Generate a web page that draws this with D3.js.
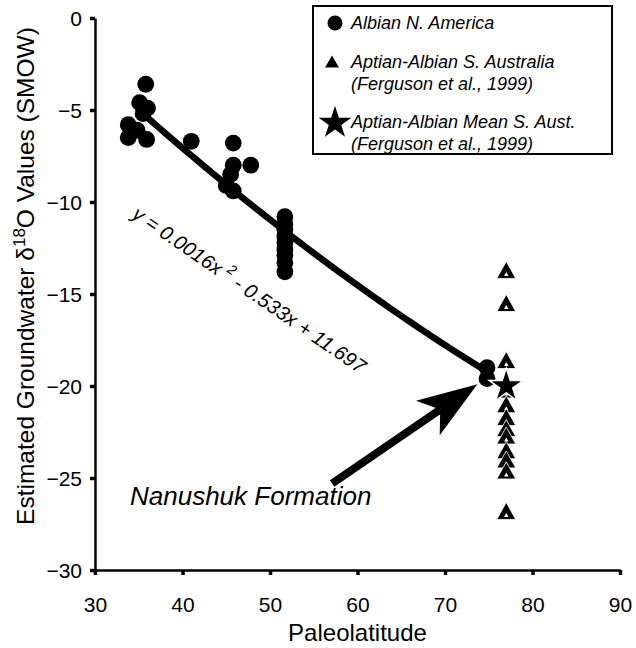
<!DOCTYPE html>
<html>
<head>
<meta charset="utf-8">
<script src="https://cdn.jsdelivr.net/npm/d3@7/dist/d3.min.js"></script>
<style>
  body { margin: 0; background: #fff; }
  svg { display: block; font-family: "Liberation Sans", Arial, Helvetica, sans-serif; }
</style>
</head>
<body>
<svg id="chart" width="636" height="648"></svg>
<script>
// Axis ticks
const xTicks = [30, 40, 50, 60, 70, 80, 90];
const yTicks = [0, -5, -10, -15, -20, -25, -30];

// Albian N. America: paleolatitude and estimated groundwater d18O (SMOW)
const naLat   = [35.8, 35.1, 36.0, 35.5, 33.8, 34.8, 33.8, 35.9,
                 41.0,
                 45.8, 45.8, 47.8, 45.5, 45.0, 45.8,
                 51.7, 51.7, 51.7, 51.7, 51.7, 51.7, 51.7, 51.7, 51.7,
                 74.8, 74.8];
const naD18O  = [-3.6, -4.6, -4.9, -5.2, -5.8, -6.1, -6.5, -6.6,
                 -6.7,
                 -6.8, -8.0, -8.0, -8.5, -9.1, -9.4,
                 -10.8, -11.2, -11.5, -11.9, -12.2, -12.6, -12.9, -13.3, -13.8,
                 -19.0, -19.6];

// Aptian-Albian S. Australia (Ferguson et al., 1999)
const ausLat  = [77, 77, 77, 77, 77, 77, 77, 77, 77, 77, 77, 77];
const ausD18O = [-13.8, -15.6, -18.7, -20.3, -21.1, -21.8, -22.4, -22.8, -23.6, -24.1, -24.7, -26.9];

// Aptian-Albian mean, S. Australia
const meanLat  = [77];
const meanD18O = [-20.0];

// Second-order polynomial fit through the N. America data: y = a x^2 + b x + c
const fitCoef  = [0.0016, -0.533, 11.697];
const fitRange = [35, 75];

// Annotation arrow (data units): tail near the label, tip at the Nanushuk points
const arrowTail = [57.1, -25.3];
const arrowTip  = [73.7, -19.9];

const legendItems = [
  { symbol: "circle",   lines: ["Albian N. America"] },
  { symbol: "triangle", lines: ["Aptian-Albian S. Australia", "(Ferguson et al., 1999)"] },
  { symbol: "star",     lines: ["Aptian-Albian Mean S. Aust.", "(Ferguson et al., 1999)"] }
];

const svg = d3.select("#chart");
const x = d3.scaleLinear().domain([30, 90]).range([95, 620]);
const y = d3.scaleLinear().domain([0, -30]).range([18, 570]);

// Axes
const yAxis = svg.append("g")
  .attr("transform", `translate(${x(30)},0)`)
  .call(d3.axisLeft(y).tickValues(yTicks).tickFormat(d3.format("d")).tickSize(5).tickSizeOuter(0).tickPadding(8));
const xAxis = svg.append("g")
  .attr("transform", `translate(0,${y(-30)})`)
  .call(d3.axisBottom(x).tickValues(xTicks).tickFormat(d3.format("d")).tickSize(5).tickSizeOuter(0).tickPadding(22));
[yAxis, xAxis].forEach(g => {
  g.select(".domain").attr("stroke", "#000").attr("stroke-width", 2.5);
  g.selectAll(".tick line").attr("stroke", "#000").attr("stroke-width", 3.5);
  g.selectAll(".tick text").attr("fill", "#000").style("font-size", "21px")
    .style("font-family", "'Liberation Sans', Arial, sans-serif");
});
yAxis.selectAll(".tick text").attr("dy", "0.36em");

// Axis titles
svg.append("text")
  .attr("x", (x(30) + x(90)) / 2).attr("y", 641)
  .attr("text-anchor", "middle").style("font-size", "24px")
  .text("Paleolatitude");

const yTitle = svg.append("text")
  .attr("transform", `translate(34,${(y(0) + y(-30)) / 2 - 18}) rotate(-90)`)
  .attr("text-anchor", "middle").style("font-size", "24.5px");
yTitle.append("tspan").text("Estimated Groundwater \u03B4");
yTitle.append("tspan").attr("dy", -9).style("font-size", "17px").text("18");
yTitle.append("tspan").attr("dy", 9).text("O Values (SMOW)");

// Fitted curve
const fitPts = d3.range(fitRange[0], fitRange[1] + 0.001, 0.5)
  .map(v => [v, fitCoef[0] * v * v + fitCoef[1] * v + fitCoef[2]]);
svg.append("path")
  .datum(fitPts)
  .attr("fill", "none").attr("stroke", "#000").attr("stroke-width", 6.5)
  .attr("stroke-linecap", "round")
  .attr("d", d3.line().x(d => x(d[0])).y(d => y(d[1])));

// Triangle path centred on (cx, cy)
function triPath(cx, cy, w, h) {
  return `M${cx},${cy - h * 0.62}L${cx + w / 2},${cy + h * 0.38}L${cx - w / 2},${cy + h * 0.38}Z`;
}

// S. Australia triangles
const tri = svg.append("g");
ausLat.forEach((lat, i) => {
  const cx = x(lat), cy = y(ausD18O[i]);
  tri.append("path").attr("d", triPath(cx, cy, 19, 17))
    .attr("fill", "#000").attr("stroke", "#fff").attr("stroke-width", 0.8);
  tri.append("path").attr("d", triPath(cx, cy + 2.5, 4.5, 4))
    .attr("fill", "#fff");
});

// N. America circles
svg.append("g").selectAll("circle")
  .data(naLat.map((d, i) => [d, naD18O[i]]))
  .join("circle")
  .attr("cx", d => x(d[0])).attr("cy", d => y(d[1])).attr("r", 8.4)
  .attr("fill", "#000");

// Mean star
const star = d3.symbol().type(d3.symbolStar).size(360);
svg.append("g").selectAll("path")
  .data(meanLat.map((d, i) => [d, meanD18O[i]]))
  .join("path")
  .attr("d", star)
  .attr("transform", d => `translate(${x(d[0])},${y(d[1])})`)
  .attr("fill", "#000").attr("stroke", "#fff").attr("stroke-width", 1.5);

// Regression equation
const eq = svg.append("text")
  .attr("transform", "translate(131,217) rotate(34.5)")
  .style("font-size", "20px").style("font-style", "italic");
eq.append("tspan").text("y = 0.0016x ");
eq.append("tspan").attr("dy", -9).style("font-size", "14px").text("2");
eq.append("tspan").attr("dy", 9).text("  - 0.533x + 11.697");

// Nanushuk annotation
const tx = x(arrowTail[0]), ty = y(arrowTail[1]);
const hx = x(arrowTip[0]), hy = y(arrowTip[1]);
const ang = Math.atan2(hy - ty, hx - tx);
const ux = Math.cos(ang), uy = Math.sin(ang), px = -uy, py = ux;
const headLen = 60, headHalf = 21, notch = 45;
svg.append("line")
  .attr("x1", tx).attr("y1", ty)
  .attr("x2", hx - ux * notch).attr("y2", hy - uy * notch)
  .attr("stroke", "#000").attr("stroke-width", 8);
svg.append("path")
  .attr("d", `M${hx},${hy}` +
    `L${hx - ux * headLen + px * headHalf},${hy - uy * headLen + py * headHalf}` +
    `L${hx - ux * notch},${hy - uy * notch}` +
    `L${hx - ux * headLen - px * headHalf},${hy - uy * headLen - py * headHalf}Z`)
  .attr("fill", "#000");
svg.append("text")
  .attr("x", 130).attr("y", 505)
  .style("font-size", "26px").style("font-style", "italic")
  .text("Nanushuk Formation");

// Legend
const lg = svg.append("g");
lg.append("rect").attr("x", 313).attr("y", 6).attr("width", 299).attr("height", 148)
  .attr("fill", "#fff").attr("stroke", "#000").attr("stroke-width", 2);
const rowY = [29, 68, 128];
legendItems.forEach((item, i) => {
  const by = rowY[i];
  if (item.symbol === "circle") {
    lg.append("circle").attr("cx", 335).attr("cy", by - 6).attr("r", 7.5).attr("fill", "#000");
  } else if (item.symbol === "triangle") {
    lg.append("path").attr("d", triPath(332, by - 5, 14, 12)).attr("fill", "#000");
  } else {
    lg.append("path").attr("d", d3.symbol().type(d3.symbolStar).size(330))
      .attr("transform", `translate(335,${by - 5})`).attr("fill", "#000");
  }
  item.lines.forEach((t, j) => {
    lg.append("text").attr("x", 351).attr("y", by + j * 22)
      .style("font-size", "18px").style("font-style", "italic").text(t);
  });
});
</script>
</body>
</html>
